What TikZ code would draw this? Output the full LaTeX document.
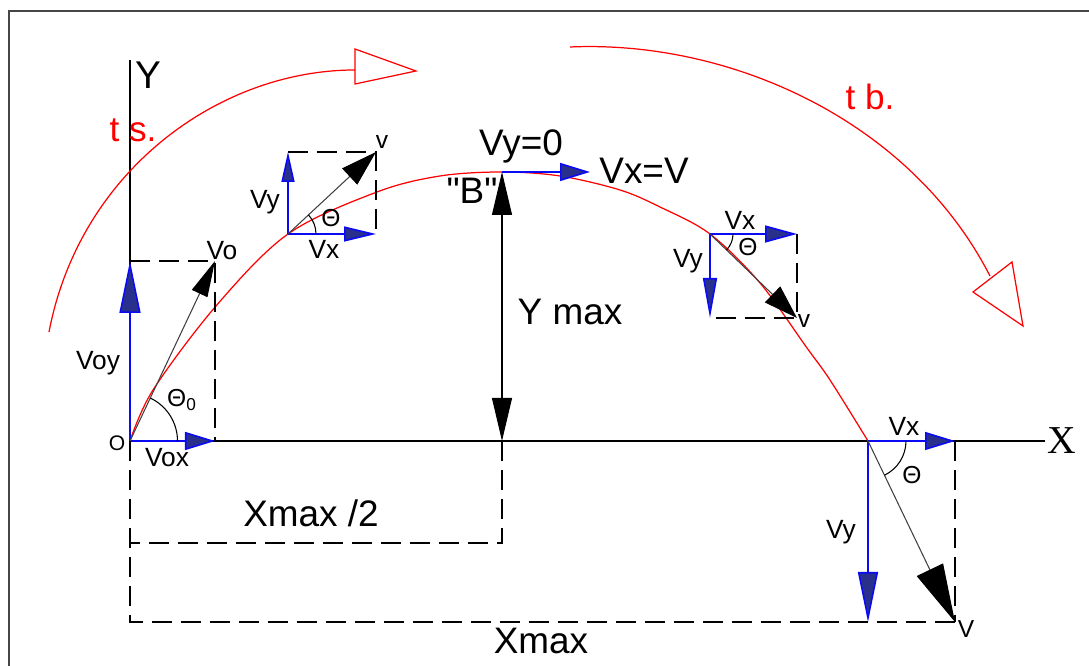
\documentclass[tikz,border=0pt]{standalone}
\usepackage{fontspec}
\setmainfont{Liberation Sans}
\newfontfamily\serifx{Liberation Serif}
\newfontfamily\plainsans{Liberation Sans}
\usetikzlibrary{arrows.meta, calc}

\definecolor{vecblue}{RGB}{10,10,245}
\definecolor{headblue}{RGB}{40,48,140}
\definecolor{frameg}{RGB}{70,70,70}

\tikzset{
  comp/.style={draw=vecblue, line width=0.9pt},
  bhead/.style 2 args={-{Triangle[length=#1,width=#2,fill=headblue]}},
  res/.style={draw=black!75, line width=0.6pt},
  khead/.style 2 args={-{Triangle[length=#1,width=#2,color=black]}},
  dim/.style={dash pattern=on 0.4cm off 0.18cm, line width=0.8pt},
  traj/.style={draw=red, line width=0.7pt},
  ang/.style={line width=0.6pt},
  big/.style={font=\fontsize{21}{21}\selectfont},
  lbl/.style={font=\fontsize{15}{15}\selectfont},
  greek/.style={font=\fontsize{14}{14}\selectfont},
  redlbl/.style={text=red, font=\fontsize{20}{20}\selectfont},
}

\begin{document}
\begin{tikzpicture}[>=Stealth, every node/.style={inner sep=0pt}]
	\useasboundingbox (-2.6,-4.5) rectangle (19.18,8.82);
	% frame
	\draw[frameg, line width=1.1pt] (-2.42,-5) -- (-2.42,8.6) -- (19.6,8.6);
	
	% key points
	\coordinate (O) at (0,0);
	\coordinate (A) at (3.16,4.14);   % rising
	\coordinate (B) at (7.44,5.38);   % top
	\coordinate (C) at (11.60,4.14);  % falling
	\coordinate (D) at (14.76,0);     % landing
	
	% axes
	\draw[line width=1.1pt] (O) -- (0,7.62);
	\draw[line width=1.1pt] (O) -- (18.3,0);
	\node[font=\fontsize{22}{22}\selectfont] (Ylbl) at (0.36,7.32) {Y};
	\node[font=\serifx\fontsize{22.5}{22.5}\selectfont] (Xlbl) at (18.64,0) {X};
	\node[font=\fontsize{12}{12}\selectfont] (Olbl) at (-0.26,-0.04) {O};
	
	% trajectory
	\draw[traj] plot[smooth, tension=0.55] coordinates {(O) (0.46,1.02) (1.72,2.70) (A) (4.94,4.98) (6.20,5.30) (B) (8.60,5.30) (9.80,5.02) (10.60,4.68) (C) (12.60,3.16) (13.54,1.86) (14.00,1.22) (D)};
	
	% launch
	\coordinate (Vox) at (1.70,0);
	\coordinate (Voy) at (0,3.60);
	\coordinate (Vo) at (1.70,3.60);
	\draw[dim] (Voy) -- (Vo) -- (Vox);
	\draw[comp, bhead={1.04cm}{0.42cm}] (O) -- (Voy);
	\draw[comp, bhead={0.6cm}{0.36cm}] (O) -- (Vox);
	\draw[res, khead={0.72cm}{0.34cm}] (O) -- (Vo);
	\draw[ang] ($(O)+(0.95,0)$) arc (0:64.7:0.95);
	\node[lbl] (lVoy) at (-0.64,1.56) {Voy};
	\node[lbl] (lVox) at (0.74,-0.34) {Vox};
	\node[lbl] (lVo) at (1.84,3.80) {Vo};
	\node[greek] (lth0) at (1.04,0.82) {Θ\textsubscript{0}};
	
	% rising point
	\coordinate (Ax) at (4.92,4.14);
	\coordinate (Ay) at (3.16,5.78);
	\coordinate (Av) at (4.92,5.78);
	\draw[dim] (Ay) -- (Av) -- (Ax);
	\draw[comp, bhead={0.6cm}{0.26cm}] (A) -- (Ay);
	\draw[comp, bhead={0.64cm}{0.3cm}] (A) -- (Ax);
	\draw[res, khead={0.72cm}{0.44cm}] (A) -- (Av);
	\draw[ang] ($(A)+(0.56,0)$) arc (0:43:0.56);
	\node[font=\fontsize{14}{14}\selectfont] (lAv) at (5.04,5.98) {v};
	\node[lbl] (lAy) at (2.70,4.78) {Vy};
	\node[greek] (lAth) at (4.02,4.46) {Θ};
	\node[lbl] (lAx) at (3.88,3.84) {Vx};
	
	% top point
	\coordinate (Bx) at (9.20,5.38);
	\coordinate (Bfoot) at (7.44,0);
	\draw[comp, bhead={0.6cm}{0.36cm}] (B) -- (Bx);
	\draw[line width=0.6pt, {Triangle[length=0.86cm,width=0.4cm]}-{Triangle[length=0.86cm,width=0.4cm]}] (B) -- (Bfoot);
	\node[big] (lBy) at (7.82,5.90) {Vy=0};
	\node[big] (lBx) at (10.28,5.40) {Vx=V};
	\node[big, font=\plainsans\fontsize{21}{21}\selectfont] (lB) at (6.84,5.00) {"B"};
	\node[big] (lYmax) at (8.80,2.58) {Y max};
	
	% falling point
	\coordinate (Cx) at (13.34,4.14);
	\coordinate (Cy) at (11.60,2.46);
	\coordinate (Cv) at (13.34,2.46);
	\draw[dim] (Cx) -- (Cv) -- (Cy);
	\draw[comp, bhead={0.64cm}{0.34cm}] (C) -- (Cx);
	\draw[comp, bhead={0.8cm}{0.28cm}] (C) -- (Cy);
	\draw[res, khead={0.68cm}{0.44cm}] (C) -- (Cv);
	\draw[ang] ($(C)+(0.46,0)$) arc (0:-44:0.46);
	\node[lbl] (lCx) at (12.20,4.42) {Vx};
	\node[greek] (lCth) at (12.36,3.88) {Θ};
	\node[lbl] (lCy) at (11.16,3.60) {Vy};
	\node[font=\fontsize{14}{14}\selectfont] (lCv) at (13.48,2.40) {v};
	
	% landing point
	\coordinate (Dx) at (16.50,0);
	\coordinate (Dy) at (14.76,-3.62);
	\coordinate (Dv) at (16.50,-3.62);
	\draw[dim] (Dx) -- (Dv);
	\draw[comp, bhead={0.6cm}{0.36cm}] (D) -- (Dx);
	\draw[comp, bhead={1.0cm}{0.4cm}] (D) -- (Dy);
	\draw[res, khead={1.16cm}{0.58cm}] (D) -- (Dv);
	\draw[ang] ($(D)+(0.76,0)$) arc (0:-64.3:0.76);
	\node[lbl] (lDx) at (15.48,0.30) {Vx};
	\node[greek] (lDth) at (15.64,-0.68) {Θ};
	\node[lbl] (lDy) at (14.22,-1.82) {Vy};
	\node[font=\fontsize{14}{14}\selectfont] (lDv) at (16.72,-3.76) {V};
	
	% ranges
	\coordinate (Hhalf) at (7.44,-2.04);
	\coordinate (Ohalf) at (0,-2.04);
	\coordinate (Oend) at (0,-3.62);
	\draw[dim] (Bfoot) -- (Hhalf) -- (Ohalf);
	\draw[dim] (O) -- (Oend) -- (Dv);
	\node[big] (lXhalf) at (3.62,-1.44) {Xmax /2};
	\node[big] (lXmax) at (8.22,-4.00) {Xmax};
	
	% rise / fall arcs
	\coordinate (S1) at (-1.62,2.18);
	\coordinate (S2) at (4.5,7.42);
	\draw[traj] (S1) .. controls (-1.0,5.42) and (1.8,7.42) .. (S2);
	\draw[traj] (4.5,7.84) -- (5.72,7.40) -- (4.5,7.14) -- cycle;
	\coordinate (F1) at (8.8,7.88);
	\coordinate (F2) at (17.2,3.30);
	\draw[traj] (F1) .. controls (12.0,8.02) and (15.6,6.42) .. (F2);
	\draw[traj] (16.86,2.98) -- (17.86,2.30) -- (17.64,3.58) -- cycle;
	\node[redlbl] (lts) at (0.06,6.22) {t s.};
	\node[redlbl] (ltb) at (14.80,6.88) {t b.};
\end{tikzpicture}
\end{document}
